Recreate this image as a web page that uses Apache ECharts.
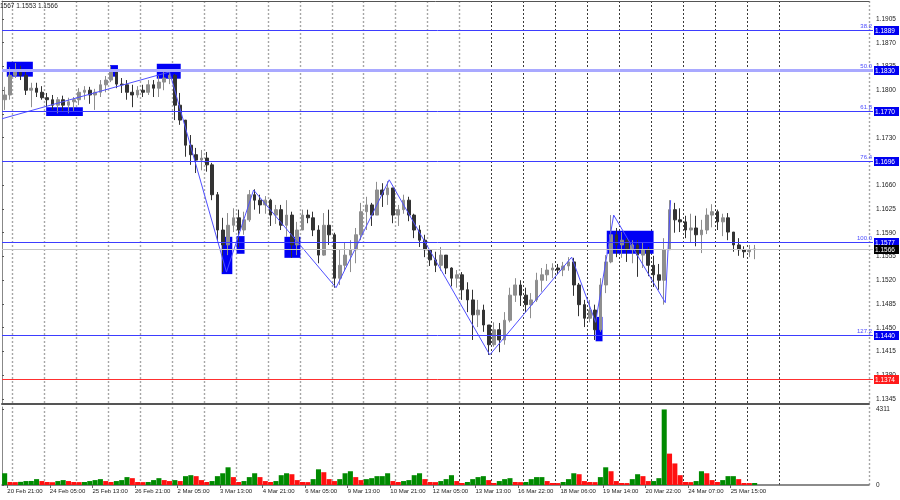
<!DOCTYPE html>
<html>
<head>
<meta charset="utf-8">
<script src="https://cdn.jsdelivr.net/npm/echarts@6/dist/echarts.min.js"></script>
<style>html,body{margin:0;padding:0;background:#fff}#c{width:900px;height:500px}</style>
</head>
<body>
<div id="c"></div>
<script>
// ---- data (4-hour buckets of the H1 chart) ----
const firstDayHours = ['20 Feb 16:00', '20 Feb 20:00'];
const tradingDays = ['23 Feb','24 Feb','25 Feb','26 Feb','27 Feb','2 Mar','3 Mar','4 Mar','5 Mar','6 Mar','9 Mar','10 Mar','11 Mar','12 Mar','13 Mar','16 Mar','17 Mar','18 Mar','19 Mar','20 Mar','23 Mar','24 Mar','25 Mar','26 Mar','27 Mar','30 Mar','31 Mar'];
const bucketHours = ['00:00','04:00','08:00','12:00','16:00','20:00'];

const opens = [1.1786,1.1793,1.1822,1.1830,1.1822,1.1800,1.1803,1.1797,1.1789,1.1786,
1.1778,1.1786,1.1778,1.1783,1.1786,1.1797,1.1800,1.1793,1.1797,1.1808,
1.1815,1.1827,1.1809,1.1808,1.1797,1.1793,1.1800,1.1797,1.1808,1.1803,
1.1812,1.1818,1.1822,1.1778,1.1756,1.1719,1.1705,1.1697,1.1700,1.1690,
1.1646,1.1594,1.1572,1.1601,1.1612,1.1594,1.1609,1.1646,1.1638,1.1631,
1.1638,1.1616,1.1624,1.1601,1.1616,1.1572,1.1594,1.1616,1.1612,1.1594,
1.1557,1.1601,1.1587,1.1523,1.1542,1.1557,1.1565,1.1587,1.1621,1.1631,
1.1616,1.1653,1.1646,1.1656,1.1616,1.1624,1.1638,1.1616,1.1594,1.1579,
1.1565,1.1550,1.1542,1.1557,1.1538,1.1523,1.1528,1.1506,1.1491,1.1469,
1.1476,1.1454,1.1425,1.1447,1.1432,1.1461,1.1498,1.1513,1.1498,1.1484,
1.1491,1.1520,1.1528,1.1535,1.1538,1.1535,1.1541,1.1547,1.1513,1.1484,
1.1464,1.1476,1.1447,1.1513,1.1547,1.1587,1.1572,1.1579,1.1565,1.1572,
1.1557,1.1565,1.1542,1.1528,1.1520,1.1565,1.1624,1.1609,1.1606,1.1594,
1.1597,1.1587,1.1594,1.1616,1.1621,1.1606,1.1612,1.1591,1.1572,1.1565,
1.1562,1.1565];
const closes = [1.1793,1.1822,1.1830,1.1822,1.1800,1.1803,1.1797,1.1789,1.1786,1.1778,
1.1786,1.1778,1.1783,1.1786,1.1797,1.1800,1.1793,1.1797,1.1808,1.1815,
1.1827,1.1809,1.1808,1.1797,1.1793,1.1800,1.1797,1.1808,1.1803,1.1812,
1.1818,1.1822,1.1778,1.1756,1.1719,1.1705,1.1697,1.1700,1.1690,1.1646,
1.1594,1.1572,1.1601,1.1612,1.1594,1.1609,1.1646,1.1638,1.1631,1.1638,
1.1616,1.1624,1.1601,1.1616,1.1572,1.1594,1.1616,1.1612,1.1594,1.1557,
1.1601,1.1587,1.1523,1.1542,1.1557,1.1565,1.1587,1.1621,1.1631,1.1616,
1.1653,1.1646,1.1656,1.1616,1.1624,1.1638,1.1616,1.1594,1.1579,1.1565,
1.1550,1.1542,1.1557,1.1538,1.1523,1.1528,1.1506,1.1491,1.1469,1.1476,
1.1454,1.1425,1.1447,1.1432,1.1461,1.1498,1.1513,1.1498,1.1484,1.1491,
1.1520,1.1528,1.1535,1.1538,1.1535,1.1541,1.1547,1.1513,1.1484,1.1464,
1.1476,1.1447,1.1513,1.1547,1.1587,1.1572,1.1579,1.1565,1.1572,1.1557,
1.1565,1.1542,1.1528,1.1520,1.1565,1.1624,1.1609,1.1606,1.1594,1.1597,
1.1587,1.1594,1.1616,1.1621,1.1606,1.1612,1.1591,1.1572,1.1565,1.1562,
1.1565,1.1566];
const lows = [1.1771,1.1786,1.1818,1.1815,1.1793,1.1775,1.1790,1.1786,1.1775,1.1771,
1.1766,1.1769,1.1766,1.1768,1.1778,1.1786,1.1780,1.1771,1.1790,1.1797,
1.1812,1.1803,1.1796,1.1786,1.1775,1.1789,1.1790,1.1793,1.1790,1.1790,
1.1800,1.1809,1.1756,1.1749,1.1702,1.1690,1.1678,1.1682,1.1680,1.1638,
1.1579,1.1532,1.1557,1.1591,1.1569,1.1587,1.1606,1.1624,1.1618,1.1618,
1.1600,1.1603,1.1594,1.1584,1.1553,1.1557,1.1594,1.1604,1.1585,1.1545,
1.1556,1.1572,1.1509,1.1513,1.1535,1.1532,1.1545,1.1579,1.1594,1.1600,
1.1616,1.1628,1.1631,1.1604,1.1600,1.1618,1.1607,1.1582,1.1569,1.1554,
1.1541,1.1532,1.1534,1.1529,1.1511,1.1509,1.1491,1.1473,1.1432,1.1451,
1.1444,1.1410,1.1422,1.1414,1.1425,1.1458,1.1488,1.1482,1.1473,1.1464,
1.1488,1.1503,1.1519,1.1523,1.1529,1.1526,1.1534,1.1497,1.1467,1.1451,
1.1458,1.1432,1.1444,1.1501,1.1545,1.1554,1.1553,1.1547,1.1545,1.1525,
1.1538,1.1526,1.1510,1.1506,1.1484,1.1565,1.1590,1.1591,1.1582,1.1576,
1.1570,1.1560,1.1588,1.1598,1.1594,1.1585,1.1579,1.1562,1.1556,1.1553,
1.1554,1.1551];
const highs = [1.1805,1.1834,1.1840,1.1836,1.1830,1.1811,1.1811,1.1806,1.1796,1.1793,
1.1790,1.1792,1.1789,1.1790,1.1803,1.1806,1.1805,1.1802,1.1815,1.1821,
1.1836,1.1830,1.1818,1.1815,1.1808,1.1806,1.1808,1.1815,1.1815,1.1821,
1.1827,1.1831,1.1824,1.1796,1.1756,1.1734,1.1715,1.1712,1.1709,1.1693,
1.1650,1.1612,1.1619,1.1626,1.1624,1.1621,1.1653,1.1654,1.1646,1.1644,
1.1640,1.1631,1.1631,1.1638,1.1621,1.1606,1.1624,1.1624,1.1621,1.1601,
1.1619,1.1624,1.1590,1.1565,1.1575,1.1579,1.1597,1.1634,1.1643,1.1634,
1.1665,1.1663,1.1666,1.1656,1.1631,1.1646,1.1643,1.1618,1.1601,1.1587,
1.1566,1.1562,1.1569,1.1557,1.1539,1.1535,1.1532,1.1517,1.1506,1.1491,
1.1484,1.1454,1.1458,1.1457,1.1473,1.1509,1.1523,1.1520,1.1509,1.1501,
1.1531,1.1538,1.1544,1.1545,1.1544,1.1547,1.1554,1.1553,1.1516,1.1491,
1.1491,1.1484,1.1523,1.1557,1.1616,1.1597,1.1591,1.1582,1.1579,1.1579,
1.1575,1.1569,1.1556,1.1544,1.1582,1.1638,1.1634,1.1626,1.1615,1.1618,
1.1615,1.1609,1.1626,1.1632,1.1624,1.1618,1.1619,1.1591,1.1582,1.1570,
1.1572,1.1572];
const volumes = [670,170,165,180,225,230,335,225,170,160,
225,280,225,170,165,170,225,280,335,225,
170,225,280,450,390,170,165,170,280,390,
280,225,280,225,505,560,505,280,170,225,
505,670,1010,450,170,225,450,670,450,225,
170,225,560,670,615,280,170,165,335,895,
730,335,225,335,670,785,450,280,335,390,
505,505,670,225,170,225,280,560,670,335,
170,165,225,335,560,225,115,170,335,450,
505,280,115,225,335,390,170,165,170,335,
450,450,225,115,110,170,335,670,615,225,
170,165,450,1010,785,225,115,110,335,615,
505,225,225,390,4311,1790,1230,560,170,165,
225,785,670,280,170,280,505,505,335,115,
110,115];

// zigzag vertices: [bucket position, price]
const zigzag = [[0,1.1758],[31.5,1.1827],[42.2,1.1532],[47.3,1.1653],[62.8,1.1509],[72.8,1.1668],
[91.7,1.1410],[107.1,1.1554],[111.6,1.1458],[115.0,1.1616],[124.7,1.1487],[125.7,1.1638]];
// rectangles: [from, to, top price, bottom price]
const boxes = [[0.9,5.8,1.1842,1.1820],[8.3,15.2,1.1775,1.1762],[20.3,21.8,1.1837,1.1820],
[29.1,33.6,1.1839,1.1817],[41.3,43.3,1.1584,1.1529],[44.1,45.6,1.1585,1.1559],
[53.1,56.1,1.1584,1.1553],[111.6,112.9,1.1466,1.1430],[113.7,122.5,1.1593,1.1559]];

// horizontal levels
const levelPrices = [1.1889, 1.1830, 1.1770, 1.1696, 1.1577, 1.1440, 1.1374, 1.1566];
const levelNames = ['38.2', '50.0', '61.8', '76.4', '100.0', '127.2', '', ''];
const priceTicks = [1.1345,1.1380,1.1415,1.1450,1.1485,1.1520,1.1555,1.1590,1.1625,1.1660,1.1695,1.1730,1.1765,1.1800,1.1835,1.1870,1.1905];
const volTicks = [0, 4311];
const timeLabels = ['20 Feb 21:00','24 Feb 05:00','25 Feb 13:00','26 Feb 21:00','2 Mar 05:00','3 Mar 13:00','4 Mar 21:00','6 Mar 05:00','9 Mar 13:00','10 Mar 21:00','12 Mar 05:00','13 Mar 13:00','16 Mar 22:00','18 Mar 06:00','19 Mar 14:00','20 Mar 22:00','24 Mar 07:00','25 Mar 15:00'];
const headerText = '1567 1.1553 1.1566';

// ---- styles ----
const levelStyles = [
  {line: '#3d3dff', width: 1, box: '#0000f0'},
  {line: '#a9a9ff', width: 3, box: '#0000f0'},
  {line: '#3d3dff', width: 1, box: '#0000f0'},
  {line: '#3d3dff', width: 1, box: '#0000f0'},
  {line: '#3d3dff', width: 1, box: '#0000f0'},
  {line: '#3d3dff', width: 1, box: '#0000f0'},
  {line: '#ff3030', width: 1, box: '#ff1a1a'},
  {line: '#c4c4c4', width: 1, box: '#000000'}
];

// ---- build ----
const NCAT = 163;
const categories = firstDayHours.slice();
tradingDays.forEach(d => bucketHours.forEach(h => categories.push(d + ' ' + h)));
categories.length = NCAT;

const candles = opens.map((o, i) => [o, closes[i], lows[i], highs[i]]);
const labelPos = timeLabels.map((_, i) => 1 + 8 * i);
const isDayStart = (i) => i >= 2 && (i - 2) % 6 === 0 && i <= 146;
const dayStarts = categories.map((_, i) => i).filter(isDayStart);
const PRICE_SPLIT = 92, VOL_SPLIT = 86;   // from here on the grid is drawn dark dashed

const FONT = 'Liberation Sans';
const lightGrid = (limit) => ({show: true, interval: (i) => isDayStart(i) && i < limit,
  lineStyle: {color: '#a6a6a6', type: [2, 2], width: 1.4}});
const darkGridSeries = (xi, yi, limit) => ({
  type: 'custom', xAxisIndex: xi, yAxisIndex: yi, z: 0, silent: true,
  encode: {x: 0}, data: dayStarts.filter(i => i >= limit).map(i => [i]),
  renderItem: (params, api) => {
    const cs = params.coordSys;
    const x = Math.round(api.coord([api.value(0), 0])[0]) + 0.5;
    return {type: 'line', shape: {x1: x, y1: cs.y, x2: x, y2: cs.y + cs.height},
      style: {stroke: '#3a3a3a', lineWidth: 1, lineDash: [2, 2]}};
  }
});

const chart = echarts.init(document.getElementById('c'), null, {renderer: 'canvas'});
chart.setOption({
  animation: false,
  backgroundColor: '#ffffff',
  title: {text: headerText, left: 0, top: 3, padding: 0, textStyle: {fontSize: 6.5, fontWeight: 'normal', color: '#222', fontFamily: FONT}},
  grid: [
    {left: 2, right: 31, top: 1, height: 403},
    {left: 2, right: 31, top: 407, height: 78}
  ],
  xAxis: [
    {type: 'category', gridIndex: 0, data: categories, boundaryGap: true,
      axisLine: {show: true, lineStyle: {color: '#555', width: 2}}, axisTick: {show: false}, axisLabel: {show: false}, splitLine: lightGrid(PRICE_SPLIT)},
    {type: 'value', gridIndex: 0, position: 'top', min: 0, max: NCAT,
      axisLine: {show: true, lineStyle: {color: '#555', width: 1}}, axisTick: {show: false}, axisLabel: {show: false}, splitLine: {show: false}},
    {type: 'category', gridIndex: 1, data: categories, boundaryGap: true,
      axisLine: {show: true, lineStyle: {color: '#666', width: 1.5}}, axisTick: {show: false}, axisLabel: {show: false}, splitLine: lightGrid(VOL_SPLIT)},
    {type: 'value', gridIndex: 1, position: 'bottom', min: 0, max: NCAT,
      axisLine: {show: false}, splitLine: {show: false},
      axisTick: {show: true, customValues: labelPos, length: 3, lineStyle: {color: '#666'}},
      axisLabel: {show: true, customValues: labelPos, align: 'left', margin: 3, fontSize: 6, color: '#222', fontFamily: FONT,
        formatter: (v) => timeLabels[Math.round((v - 1) / 8)]}}
  ],
  yAxis: [
    {type: 'value', gridIndex: 0, position: 'right', offset: 4, min: 1.13376, max: 1.19315, scale: true,
      axisLine: {show: true, lineStyle: {color: '#888'}}, splitLine: {show: false},
      axisTick: {show: true, customValues: priceTicks, length: 2, lineStyle: {color: '#555'}},
      axisLabel: {show: true, customValues: priceTicks, margin: 3, fontSize: 6.5, color: '#222', fontFamily: FONT, formatter: (v) => v.toFixed(4)}},
    {type: 'value', gridIndex: 1, position: 'right', offset: 4, min: 0, max: 4450,
      axisLine: {show: true, lineStyle: {color: '#888'}}, splitLine: {show: false},
      axisTick: {show: true, customValues: volTicks, length: 2, lineStyle: {color: '#555'}},
      axisLabel: {show: true, customValues: volTicks, margin: 3, fontSize: 6.5, color: '#222', fontFamily: FONT, formatter: (v) => String(Math.round(v))}}
  ],
  series: [
    darkGridSeries(1, 0, PRICE_SPLIT),
    darkGridSeries(3, 1, VOL_SPLIT),
    {type: 'custom', xAxisIndex: 1, yAxisIndex: 0, z: 1, silent: true,
      encode: {x: [0, 1], y: [2, 3]}, data: boxes,
      renderItem: (params, api) => {
        const a = api.coord([api.value(0), api.value(2)]);
        const b = api.coord([api.value(1), api.value(3)]);
        return {type: 'rect', shape: {x: a[0], y: a[1], width: b[0] - a[0], height: b[1] - a[1]}, style: {fill: '#0000f5'}};
      }},
    {type: 'candlestick', xAxisIndex: 0, yAxisIndex: 0, z: 2, data: candles, barWidth: '60%',
      itemStyle: {color: '#8e8e8e', color0: '#333333', borderColor: '#8e8e8e', borderColor0: '#333333', borderWidth: 1}},
    {type: 'line', xAxisIndex: 1, yAxisIndex: 0, z: 4, data: zigzag, symbol: 'none', silent: true,
      lineStyle: {color: '#5050ff', width: 1}},
    {type: 'custom', xAxisIndex: 1, yAxisIndex: 0, z: 5, silent: true, clip: false,
      encode: {y: 0}, data: levelPrices.map(p => [p]),
      renderItem: (params, api) => {
        const i = params.dataIndex;
        const st = levelStyles[i];
        const cs = params.coordSys;
        const y = Math.round(api.coord([0, api.value(0)])[1]) + 0.5;
        const xr = cs.x + cs.width + 4;
        const txt = levelPrices[i].toFixed(4);
        const children = [
          {type: 'line', shape: {x1: cs.x, y1: y, x2: xr, y2: y}, style: {stroke: st.line, lineWidth: st.width}},
          {type: 'rect', shape: {x: xr + 1, y: y - 4.5, width: 25, height: 9}, style: {fill: st.box}},
          {type: 'text', style: {text: txt, x: xr + 2, y: y + 0.5, fill: '#ffffff', font: '6.5px "Liberation Sans"', verticalAlign: 'middle', align: 'left'}}
        ];
        if (levelNames[i]) {
          children.push({type: 'text', style: {text: levelNames[i], x: xr - 1, y: y - 1, fill: '#4b4bff', font: '6px "Liberation Sans"', verticalAlign: 'bottom', align: 'right'}});
        }
        return {type: 'group', children};
      }},
    {type: 'bar', xAxisIndex: 2, yAxisIndex: 1, data: volumes, barWidth: '95%',
      itemStyle: {color: (p) => (p.dataIndex === 0 || volumes[p.dataIndex] >= volumes[p.dataIndex - 1]) ? '#008a00' : '#ff1010'}}
  ]
});
</script>
</body>
</html>
